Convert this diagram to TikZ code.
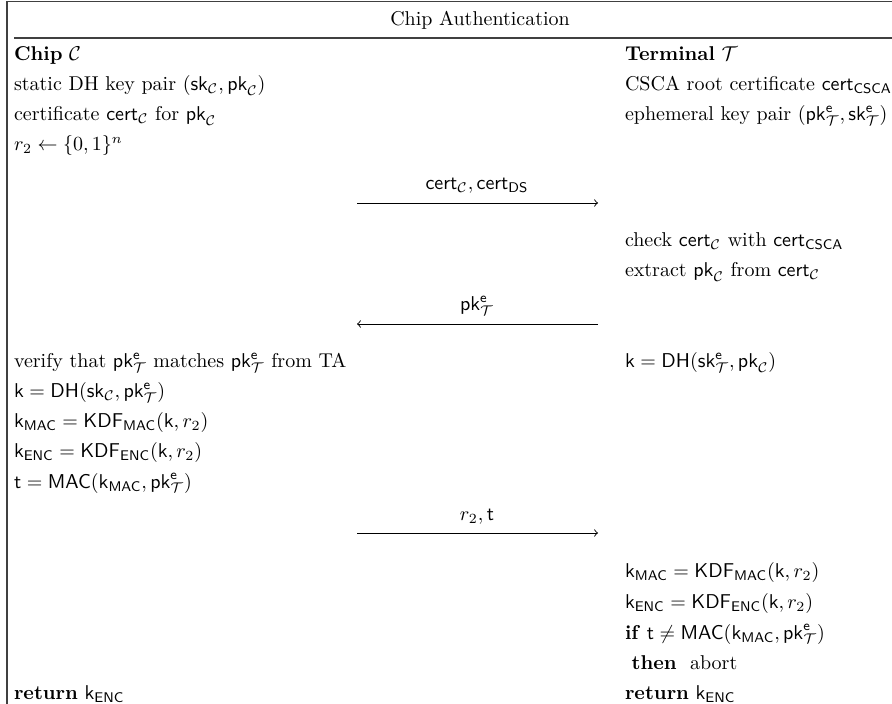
\documentclass[tikz,border=0pt]{standalone}
\usepackage{amsmath,amssymb}
\newcommand{\Cc}{\mathcal{C}}
\newcommand{\Tt}{\mathcal{T}}
\newcommand{\sfx}[1]{\mathsf{#1}}
\newcommand{\pkeT}{\mathsf{pk}^{\mathsf{e}}_{\mathcal{T}}}
\newcommand{\skeT}{\mathsf{sk}^{\mathsf{e}}_{\mathcal{T}}}
\begin{document}
\begin{tikzpicture}[x=0.5pt,y=-0.5pt,
  txt/.style={anchor=base west, inner sep=0pt, outer sep=0pt},
  msglabel/.style={anchor=base, inner sep=0pt, outer sep=0pt},
  framel/.style={draw=black!75, line width=0.6pt},
  msgarrow/.style={line width=0.45pt, ->}]
\useasboundingbox (0,0) rectangle (892,704);
% frame
\draw[framel] (7,704) -- (7,1.5) -- (892,1.5);
\draw[framel] (14,38) -- (892,38);
\node[msglabel] (title) at (480,26) {Chip Authentication};
% left column
\node[txt] (chip) at (14,61) {\textbf{Chip} $\Cc$};
\node[txt] (l1) at (14,91) {static DH key pair $(\sfx{sk}_{\Cc}, \sfx{pk}_{\Cc})$};
\node[txt] (l2) at (14,121) {certificate $\sfx{cert}_{\Cc}$ for $\sfx{pk}_{\Cc}$};
\node[txt] (l3) at (14,151) {$r_2 \leftarrow \{0,1\}^n$};
\node[txt] (l4) at (14,368) {verify that $\pkeT$ matches $\pkeT$ from TA};
\node[txt] (l5) at (14,398) {$\sfx{k} = \sfx{DH}(\sfx{sk}_{\Cc}, \pkeT)$};
\node[txt] (l6) at (14,428) {$\sfx{k}_{\sfx{MAC}} = \sfx{KDF}_{\sfx{MAC}}(\sfx{k}, r_2)$};
\node[txt] (l7) at (14,458) {$\sfx{k}_{\sfx{ENC}} = \sfx{KDF}_{\sfx{ENC}}(\sfx{k}, r_2)$};
\node[txt] (l8) at (14,488) {$\sfx{t} = \sfx{MAC}(\sfx{k}_{\sfx{MAC}}, \pkeT)$};
\node[txt] (l9) at (14,699) {\textbf{return} $\sfx{k}_{\sfx{ENC}}$};
% right column
\node[txt] (term) at (625,61) {\textbf{Terminal} $\Tt$};
\node[txt] (r1) at (625,91) {CSCA root certificate $\sfx{cert}_{\sfx{CSCA}}$};
\node[txt] (r2) at (625,121) {ephemeral key pair $(\pkeT, \skeT)$};
\node[txt] (r3) at (625,247) {check $\sfx{cert}_{\Cc}$ with $\sfx{cert}_{\sfx{CSCA}}$};
\node[txt] (r4) at (625,277) {extract $\sfx{pk}_{\Cc}$ from $\sfx{cert}_{\Cc}$};
\node[txt] (r5) at (625,368) {$\sfx{k} = \sfx{DH}(\skeT, \sfx{pk}_{\Cc})$};
\node[txt] (r6) at (625,577) {$\sfx{k}_{\sfx{MAC}} = \sfx{KDF}_{\sfx{MAC}}(\sfx{k}, r_2)$};
\node[txt] (r7) at (625,608) {$\sfx{k}_{\sfx{ENC}} = \sfx{KDF}_{\sfx{ENC}}(\sfx{k}, r_2)$};
\node[txt] (r8) at (625,639) {\textbf{if} $\sfx{t} \neq \sfx{MAC}(\sfx{k}_{\sfx{MAC}}, \pkeT)$};
\node[txt] (r9) at (625,669) {\ \textbf{then}\ \ abort};
\node[txt] (r10) at (625,699) {\textbf{return} $\sfx{k}_{\sfx{ENC}}$};
% messages
\coordinate (m1a) at (357,203); \coordinate (m1b) at (598,203);
\coordinate (m2a) at (598,324); \coordinate (m2b) at (357,324);
\coordinate (m3a) at (357,533); \coordinate (m3b) at (598,533);
\node[msglabel] (lab1) at (477,190) {$\sfx{cert}_{\Cc}, \sfx{cert}_{\sfx{DS}}$};
\node[msglabel] (lab2) at (477,311) {$\pkeT$};
\node[msglabel] (lab3) at (477,520) {$r_2, \sfx{t}$};
\draw[msgarrow] (m1a) -- (m1b);
\draw[msgarrow] (m2a) -- (m2b);
\draw[msgarrow] (m3a) -- (m3b);
\end{tikzpicture}
\end{document}
